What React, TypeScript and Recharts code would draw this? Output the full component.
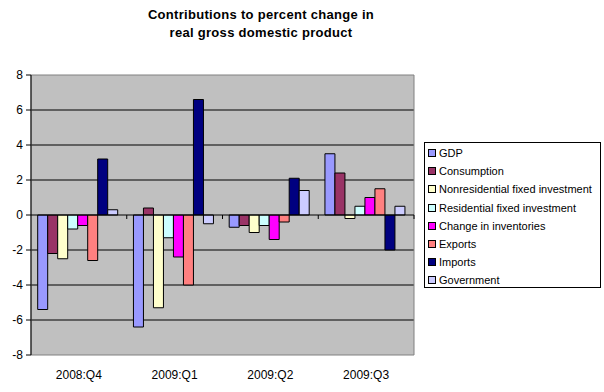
import React from 'react';
import {
  BarChart, Bar, XAxis, YAxis, CartesianGrid, ReferenceLine, ReferenceArea,
} from 'recharts';

const quarters = ['2008:Q4', '2009:Q1', '2009:Q2', '2009:Q3'];
const gdp = [-5.4, -6.4, -0.7, 3.5];
const consumption = [-2.2, 0.4, -0.6, 2.4];
const nonresidential = [-2.5, -5.3, -1.0, -0.2];
const residential = [-0.8, -1.3, -0.6, 0.5];
const inventories = [-0.6, -2.4, -1.4, 1.0];
const exportsV = [-2.6, -4.0, -0.4, 1.5];
const imports = [3.2, 6.6, 2.1, -2.0];
const government = [0.3, -0.5, 1.4, 0.5];
const yTicks = [-8, -6, -4, -2, 0, 2, 4, 6, 8];

const series = [
  { key: 'gdp', name: 'GDP', color: '#9999FF', values: gdp },
  { key: 'consumption', name: 'Consumption', color: '#993366', values: consumption },
  { key: 'nonres', name: 'Nonresidential fixed investment', color: '#FFFFCC', values: nonresidential },
  { key: 'res', name: 'Residential fixed investment', color: '#CCFFFF', values: residential },
  { key: 'inv', name: 'Change in inventories', color: '#FF00FF', values: inventories },
  { key: 'exports', name: 'Exports', color: '#FF8080', values: exportsV },
  { key: 'imports', name: 'Imports', color: '#000080', values: imports },
  { key: 'gov', name: 'Government', color: '#CCCCFF', values: government },
];

const data = quarters.map((q, i) => {
  const row: Record<string, string | number> = { q };
  series.forEach((s) => { row[s.key] = s.values[i]; });
  return row;
});

const font = 'Arial, "Liberation Sans", sans-serif';

function LegendBox() {
  return (
    <div style={{
      position: 'absolute', left: 424, top: 142, width: 177, height: 146,
      border: '1px solid #000', background: '#fff', boxSizing: 'border-box',
      fontFamily: font, fontSize: 11, color: '#000', padding: '1px 0 0 3px',
    }}>
      {series.map((s) => (
        <div key={s.key} style={{ display: 'flex', alignItems: 'center', height: 18.2 }}>
          <span style={{
            display: 'inline-block', width: 6, height: 6, background: s.color,
            border: '1px solid #000', marginRight: 3, flex: 'none',
          }} />
          <span style={{ whiteSpace: 'nowrap' }}>{s.name}</span>
        </div>
      ))}
    </div>
  );
}

// zero line with small ticks at category boundaries
function ZeroLine(props: any) {
  const { x1, x2, y1 } = props;
  const n = quarters.length;
  const step = (x2 - x1) / n;
  const ticks = [];
  for (let i = 1; i <= n; i++) {
    const x = x1 + step * i;
    ticks.push(<line key={i} x1={x} x2={x} y1={y1} y2={y1 + 4} stroke="#000" />);
  }
  return (
    <g>
      <line x1={x1} x2={x2} y1={y1} y2={y1} stroke="#000" />
      {ticks}
    </g>
  );
}

export default function App() {
  return (
    <div style={{ position: 'absolute', left: 0, top: 0, width: 604, height: 392, background: '#fff' }}>
      <div style={{
        position: 'absolute', left: 111, width: 300, top: 6, textAlign: 'center',
        fontFamily: font, fontWeight: 'bold', fontSize: 13, lineHeight: '18px', color: '#000',
        letterSpacing: 0.3, zIndex: 2,
      }}>
        Contributions to percent change in<br />real gross domestic product
      </div>
      <BarChart
        width={604}
        height={392}
        data={data}
        margin={{ top: 75, right: 190, bottom: 0, left: 0 }}
        barCategoryGap="7%"
        barGap={0}
      >
        <CartesianGrid fill="#C0C0C0" stroke="#000" vertical={false} horizontalValues={[-6, -4, -2, 2, 4, 6]} />
        <ReferenceArea y1={-8} y2={8} fill="none" stroke="#808080" strokeWidth={1} ifOverflow="visible" />
        <XAxis
          dataKey="q"
          height={37}
          axisLine={false}
          tickLine={false}
          tickMargin={9}
          tick={{ fontFamily: font, fontSize: 12, fill: '#000' }}
        />
        <YAxis
          domain={[-8, 8]}
          ticks={yTicks}
          width={31}
          tickSize={5}
          tickMargin={3}
          interval={0}
          axisLine={{ stroke: '#000' }}
          tickLine={{ stroke: '#000' }}
          tick={{ fontFamily: font, fontSize: 12, fill: '#000' }}
        />
        {series.map((s) => (
          <Bar key={s.key} dataKey={s.key} name={s.name} fill={s.color} stroke="#000" strokeWidth={1} isAnimationActive={false} />
        ))}
        <ReferenceLine y={0} shape={ZeroLine} />
      </BarChart>
      <LegendBox />
    </div>
  );
}
